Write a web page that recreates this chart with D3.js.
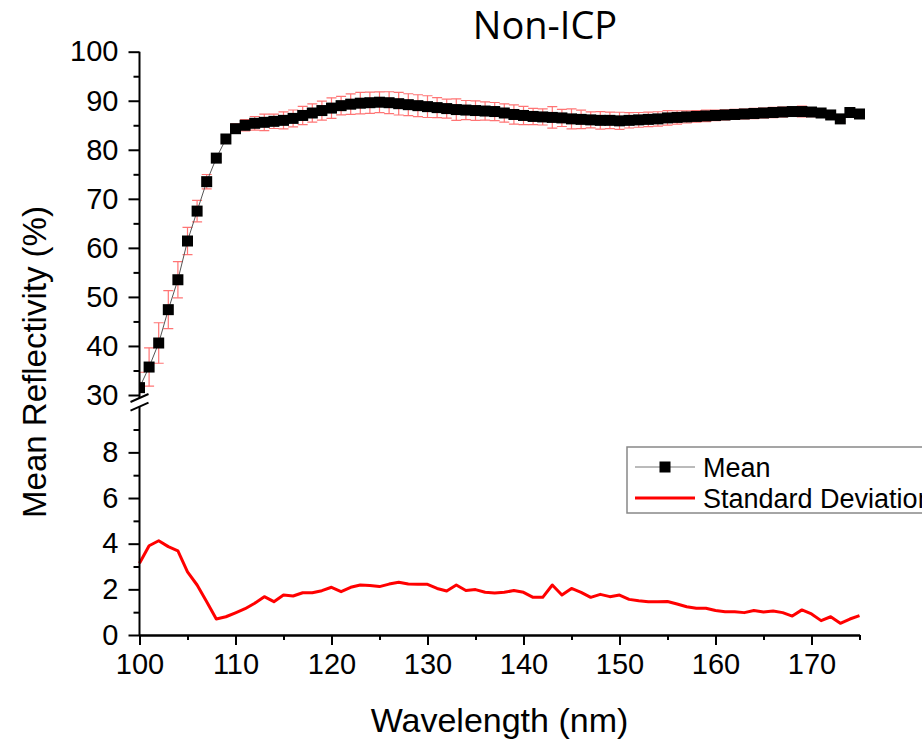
<!DOCTYPE html>
<html>
<head>
<meta charset="utf-8">
<script src="https://cdn.jsdelivr.net/npm/d3@7"></script>
<style>
    body { margin: 0; background: #fff; }
    svg { display: block; font-family: "Liberation Sans", Arial, sans-serif; }
</style>
</head>
<body>
<svg width="922" height="741"></svg>
<script>
// wavelength (nm), one reading per nm
const wavelength = [100, 101, 102, 103, 104, 105, 106, 107, 108, 109,
    110, 111, 112, 113, 114, 115, 116, 117, 118, 119,
    120, 121, 122, 123, 124, 125, 126, 127, 128, 129,
    130, 131, 132, 133, 134, 135, 136, 137, 138, 139,
    140, 141, 142, 143, 144, 145, 146, 147, 148, 149,
    150, 151, 152, 153, 154, 155, 156, 157, 158, 159,
    160, 161, 162, 163, 164, 165, 166, 167, 168, 169,
    170, 171, 172, 173, 174, 175]

const meanReflectivity = [31.5, 35.7, 40.6, 47.4, 53.5, 61.4, 67.5, 73.5, 78.3, 82.2,
    84.3, 85.0, 85.4, 85.6, 85.8, 86.0, 86.4, 87.0, 87.5, 88.0,
    88.5, 89.0, 89.3, 89.5, 89.6, 89.7, 89.6, 89.4, 89.2, 89.0,
    88.8, 88.6, 88.4, 88.2, 88.1, 88.0, 87.9, 87.8, 87.5, 87.2,
    87.0, 86.8, 86.7, 86.6, 86.5, 86.3, 86.2, 86.1, 86.0, 86.0,
    85.9, 86.0, 86.1, 86.2, 86.3, 86.5, 86.6, 86.7, 86.8, 86.9,
    87.0, 87.1, 87.2, 87.3, 87.4, 87.5, 87.6, 87.7, 87.8, 87.8,
    87.7, 87.5, 87.1, 86.3, 87.6, 87.3]

const stdDeviation = [3.14, 3.91, 4.13, 3.87, 3.69, 2.77, 2.19, 1.46, 0.70, 0.80,
    0.97, 1.15, 1.39, 1.68, 1.46, 1.75, 1.71, 1.85, 1.85, 1.94,
    2.09, 1.90, 2.09, 2.19, 2.17, 2.12, 2.23, 2.31, 2.23, 2.22,
    2.22, 2.04, 1.93, 2.19, 1.95, 1.99, 1.87, 1.84, 1.87, 1.95,
    1.87, 1.65, 1.65, 2.19, 1.75, 2.04, 1.87, 1.65, 1.78, 1.68,
    1.75, 1.56, 1.50, 1.46, 1.46, 1.47, 1.36, 1.24, 1.17, 1.17,
    1.07, 1.02, 1.02, 0.98, 1.07, 1.01, 1.05, 0.98, 0.83, 1.10,
    0.92, 0.63, 0.80, 0.51, 0.70, 0.85]

const xTicks = [100, 110, 120, 130, 140, 150, 160, 170]
const upperTicks = [30, 40, 50, 60, 70, 80, 90, 100]
const lowerTicks = [0, 2, 4, 6, 8]
const seriesNames = ["Mean", "Standard Deviation"]

let svg = d3.select("svg")

let data = wavelength.map(function (w, i) {
    return {w: w, mean: meanReflectivity[i], sd: stdDeviation[i]}
})

let x = d3.scaleLinear().domain([100, 175]).range([139.5, 859.5])
// broken y axis: upper part 30-100, lower part 0-10
let yUp = d3.scaleLinear().domain([30, 100]).range([395, 51.7])
let yLow = d3.scaleLinear().domain([0, 10]).range([635, 406.7])

svg.append("defs").append("clipPath").attr("id", "clipUp")
    .append("rect")
    .attr("x", x(100)).attr("y", 30)
    .attr("width", x(175) - x(100) + 10).attr("height", 397 - 30)

// title
svg.append("text")
    .attr("x", 545).attr("y", 39)
    .attr("text-anchor", "middle")
    .style("font-family", "'Open Sans', sans-serif")
    .style("font-size", "38px")
    .text("Non-ICP")

// ---- upper panel: mean with error bars
let up = svg.append("g").attr("clip-path", "url(#clipUp)")

let bars = up.selectAll(".err")
    .data(data)
    .enter()
    .append("g")
    .attr("class", "err")
    .attr("stroke", "#ff7474")
    .attr("stroke-width", 1.2)

bars.append("line")
    .attr("x1", function (d) { return x(d.w) })
    .attr("x2", function (d) { return x(d.w) })
    .attr("y1", function (d) { return yUp(d.mean - d.sd) })
    .attr("y2", function (d) { return yUp(d.mean + d.sd) })
bars.append("line")
    .attr("x1", function (d) { return x(d.w) - 5 })
    .attr("x2", function (d) { return x(d.w) + 5 })
    .attr("y1", function (d) { return yUp(d.mean + d.sd) })
    .attr("y2", function (d) { return yUp(d.mean + d.sd) })
bars.append("line")
    .attr("x1", function (d) { return x(d.w) - 5 })
    .attr("x2", function (d) { return x(d.w) + 5 })
    .attr("y1", function (d) { return yUp(d.mean - d.sd) })
    .attr("y2", function (d) { return yUp(d.mean - d.sd) })

up.append("path")
    .datum(data)
    .attr("fill", "none")
    .attr("stroke", "#555")
    .attr("stroke-width", 1)
    .attr("d", d3.line()
        .x(function (d) { return x(d.w) })
        .y(function (d) { return yUp(d.mean) }))

const sq = 11
up.selectAll(".pt")
    .data(data)
    .enter()
    .append("rect")
    .attr("class", "pt")
    .attr("x", function (d) { return x(d.w) - sq / 2 })
    .attr("y", function (d) { return yUp(d.mean) - sq / 2 })
    .attr("width", sq)
    .attr("height", sq)
    .attr("fill", "#000")

// ---- lower panel: standard deviation
svg.append("path")
    .datum(data)
    .attr("fill", "none")
    .attr("stroke", "#ff0000")
    .attr("stroke-width", 3)
    .attr("stroke-linejoin", "round")
    .attr("d", d3.line()
        .x(function (d) { return x(d.w) })
        .y(function (d) { return yLow(d.sd) }))

// ---- axes
function styleAxis(g) {
    g.selectAll("path").attr("stroke", "#000").attr("stroke-width", 2)
    g.selectAll("line").attr("stroke", "#000").attr("stroke-width", 2)
    g.selectAll("text").style("font-size", "29px").attr("fill", "#000")
        .style("font-family", "'Liberation Sans', Arial, sans-serif")
}

// minor ticks first, majors on top
svg.append("g")
    .attr("transform", "translate(0,635)")
    .call(d3.axisBottom(x).tickValues([105, 115, 125, 135, 145, 155, 165, 175])
        .tickSize(5).tickSizeOuter(0).tickFormat(""))
    .call(styleAxis)
svg.append("g")
    .attr("transform", "translate(0,635)")
    .call(d3.axisBottom(x).tickValues(xTicks).tickSize(10).tickSizeOuter(0).tickPadding(8)
        .tickFormat(d3.format("d")))
    .call(styleAxis)

let upAxis = d3.axisLeft(yUp).tickValues(upperTicks).tickSize(11).tickSizeOuter(0).tickPadding(10)
svg.append("g")
    .attr("transform", "translate(" + x(100) + ",0)")
    .call(d3.axisLeft(yUp).tickValues([35, 45, 55, 65, 75, 85, 95]).tickSize(6).tickFormat(""))
    .call(styleAxis)
    .select(".domain").remove()
let gUp = svg.append("g")
    .attr("transform", "translate(" + x(100) + ",0)")
    .call(upAxis)
    .call(styleAxis)
gUp.select(".domain").remove()
svg.append("line")
    .attr("x1", x(100)).attr("x2", x(100))
    .attr("y1", yUp(100)).attr("y2", 398)
    .attr("stroke", "#000").attr("stroke-width", 2)

svg.append("g")
    .attr("transform", "translate(" + x(100) + ",0)")
    .call(d3.axisLeft(yLow).tickValues([1, 3, 5, 7, 9]).tickSize(6).tickFormat(""))
    .call(styleAxis)
    .select(".domain").remove()
let gLow = svg.append("g")
    .attr("transform", "translate(" + x(100) + ",0)")
    .call(d3.axisLeft(yLow).tickValues(lowerTicks).tickSize(11).tickSizeOuter(0).tickPadding(10))
    .call(styleAxis)
gLow.select(".domain").remove()
svg.append("line")
    .attr("x1", x(100)).attr("x2", x(100))
    .attr("y1", yLow(10)).attr("y2", yLow(0))
    .attr("stroke", "#000").attr("stroke-width", 2)

// axis break marks
svg.selectAll(".brk")
    .data([398, 406.7])
    .enter()
    .append("line")
    .attr("class", "brk")
    .attr("x1", x(100) - 9).attr("x2", x(100) + 9)
    .attr("y1", function (d) { return d + 4 })
    .attr("y2", function (d) { return d - 4 })
    .attr("stroke", "#000").attr("stroke-width", 2)

// axis titles
svg.append("text")
    .attr("x", (x(100) + x(175)) / 2).attr("y", 732)
    .attr("text-anchor", "middle")
    .style("font-size", "34px")
    .text("Wavelength (nm)")

svg.append("text")
    .attr("transform", "translate(46,362) rotate(-90)")
    .attr("text-anchor", "middle")
    .style("font-size", "33px")
    .text("Mean Reflectivity (%)")

// legend
let legend = svg.append("g")
legend.append("rect")
    .attr("x", 627).attr("y", 447)
    .attr("width", 320).attr("height", 66)
    .attr("fill", "#fff")
    .attr("stroke", "#888").attr("stroke-width", 1.5)

let rows = legend.selectAll(".row")
    .data(seriesNames)
    .enter()
    .append("g")
    .attr("class", "row")
    .attr("transform", function (d, i) { return "translate(0," + (467 + i * 31) + ")" })

rows.append("line")
    .attr("x1", 635).attr("x2", 695)
    .attr("stroke", function (d, i) { return i === 0 ? "#777" : "#ff0000" })
    .attr("stroke-width", function (d, i) { return i === 0 ? 1 : 3 })
rows.filter(function (d, i) { return i === 0 })
    .append("rect")
    .attr("x", 665 - sq / 2).attr("y", -sq / 2)
    .attr("width", sq).attr("height", sq)
    .attr("fill", "#000")
rows.append("text")
    .attr("x", 703).attr("y", 10)
    .style("font-size", "27px")
    .text(function (d) { return d })
</script>
</body>
</html>
